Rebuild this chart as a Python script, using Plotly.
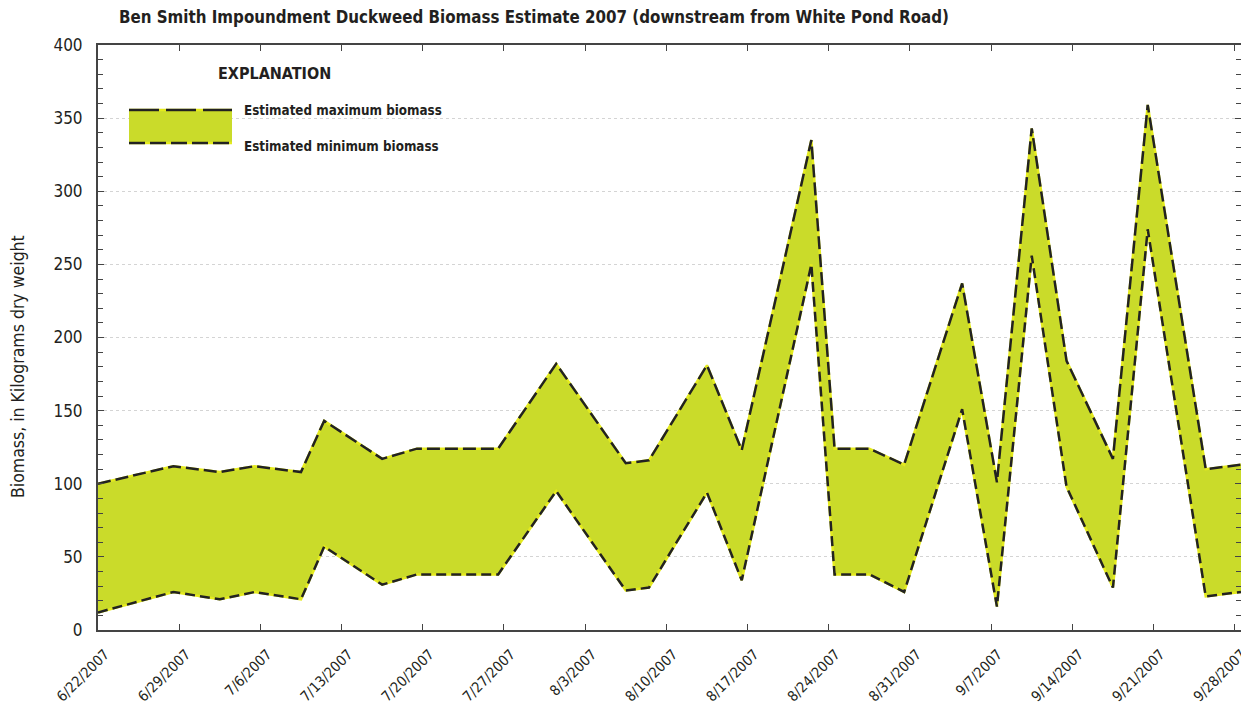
import plotly.graph_objects as go

# ---- data ----
dates = [
    "2007-06-22 00:00", "2007-06-28 12:00", "2007-07-02 12:00", "2007-07-05 12:00",
    "2007-07-09 12:00", "2007-07-11 12:00", "2007-07-16 12:00", "2007-07-19 12:00",
    "2007-07-26 12:00", "2007-07-31 12:00", "2007-08-06 12:00", "2007-08-08 12:00",
    "2007-08-13 12:00", "2007-08-16 12:00", "2007-08-22 12:00", "2007-08-24 12:00",
    "2007-08-27 12:00", "2007-08-30 12:00", "2007-09-04 12:00", "2007-09-07 12:00",
    "2007-09-10 12:00", "2007-09-13 12:00", "2007-09-17 12:00", "2007-09-20 12:00",
    "2007-09-25 12:00", "2007-09-28 13:00",
]
max_biomass = [100, 112, 108, 112, 108, 143, 117, 124, 124, 182, 114, 116, 181, 123,
               335, 124, 124, 113, 237, 101, 343, 184, 117, 359, 110, 113]
min_biomass = [12, 26, 21, 26, 21, 57, 31, 38, 38, 95, 27, 29, 94, 34,
               250, 38, 38, 26, 151, 16, 256, 98, 29, 274, 23, 26]

tick_dates = ["2007-06-22", "2007-06-29", "2007-07-06", "2007-07-13", "2007-07-20",
              "2007-07-27", "2007-08-03", "2007-08-10", "2007-08-17", "2007-08-24",
              "2007-08-31", "2007-09-07", "2007-09-14", "2007-09-21", "2007-09-28"]
tick_labels = ["6/22/2007", "6/29/2007", "7/6/2007", "7/13/2007", "7/20/2007",
               "7/27/2007", "8/3/2007", "8/10/2007", "8/17/2007", "8/24/2007",
               "8/31/2007", "9/7/2007", "9/14/2007", "9/21/2007", "9/28/2007"]
y_ticks = [0, 50, 100, 150, 200, 250, 300, 350, 400]

FONT = "Liberation Sans Narrow, Arial Narrow, DejaVu Sans Condensed, sans-serif"
FILL = "#cadb2a"
GAP = "#e4ea1e"
MAXDASH = "13px,5px"
MINDASH = "10px,5px"

fig = go.Figure()
fig.add_trace(go.Scatter(x=dates, y=min_biomass, mode="lines",
                         line=dict(color=GAP, width=2.5), showlegend=False,
                         hoverinfo="skip"))
fig.add_trace(go.Scatter(x=dates, y=max_biomass, mode="lines", fill="tonexty",
                         fillcolor=FILL, line=dict(color=GAP, width=2.5),
                         showlegend=False, hoverinfo="skip"))
fig.add_trace(go.Scatter(x=dates, y=min_biomass, mode="lines",
                         line=dict(color="#222222", width=2.5, dash=MINDASH),
                         name="Estimated minimum biomass", showlegend=False))
fig.add_trace(go.Scatter(x=dates, y=max_biomass, mode="lines",
                         line=dict(color="#222222", width=2.5, dash=MAXDASH),
                         name="Estimated maximum biomass", showlegend=False))

# page offset (default body margin) and target plot box in screen pixels
OFF = 8
W, H = 1249, 715
SL, SR, ST, SB = 98, 1241, 45, 630
L = SL - OFF
T = ST - OFF
R = W - (SR - OFF)
B = H - (SB - OFF)
pw, ph = W - L - R, H - T - B
def px(x):
    return (x - SL) / pw
def py(y):
    return (SB - y) / ph

shapes = [
    dict(type="rect", xref="paper", yref="paper", x0=px(129), x1=px(232),
         y0=py(143), y1=py(110), fillcolor=FILL, line=dict(width=0), layer="above"),
    dict(type="line", xref="paper", yref="paper", x0=px(129), x1=px(232),
         y0=py(110), y1=py(110), line=dict(color=GAP, width=2.5), layer="above"),
    dict(type="line", xref="paper", yref="paper", x0=px(129), x1=px(232),
         y0=py(110), y1=py(110), line=dict(color="#222222", width=2.5, dash="30px,7px"), layer="above"),
    dict(type="line", xref="paper", yref="paper", x0=px(129), x1=px(232),
         y0=py(143), y1=py(143), line=dict(color=GAP, width=2.5), layer="above"),
    dict(type="line", xref="paper", yref="paper", x0=px(129), x1=px(232),
         y0=py(143), y1=py(143), line=dict(color="#222222", width=2.5, dash="16px,5px"), layer="above"),
]

annotations = [
    dict(text="<b>EXPLANATION</b>", xref="paper", yref="paper", x=px(216), y=py(73),
         xanchor="left", yanchor="middle", showarrow=False,
         font=dict(family=FONT, size=16, color="#231f20")),
    dict(text="<b>Estimated maximum biomass</b>", xref="paper", yref="paper",
         x=px(242), y=py(110), xanchor="left", yanchor="middle", showarrow=False,
         font=dict(family=FONT, size=13.3, color="#231f20")),
    dict(text="<b>Estimated minimum biomass</b>", xref="paper", yref="paper",
         x=px(242), y=py(146), xanchor="left", yanchor="middle", showarrow=False,
         font=dict(family=FONT, size=13.3, color="#231f20")),
    dict(text="Biomass, in Kilograms dry weight", xref="paper", yref="paper",
         x=px(18), y=py(367), xanchor="center", yanchor="middle", textangle=-90,
         showarrow=False, font=dict(family=FONT, size=17.5, color="#231f20")),
    dict(text="<b>Ben Smith Impoundment Duckweed Biomass Estimate 2007 (downstream from White Pond Road)</b>",
         xref="paper", yref="paper", x=px(117), y=py(17), xanchor="left", yanchor="middle",
         showarrow=False, font=dict(family=FONT, size=16.8, color="#231f20")),
]

fig.update_layout(
    width=W, height=H,
    margin=dict(l=L, r=R, t=T, b=B, autoexpand=False),
    paper_bgcolor="white", plot_bgcolor="white",
    font=dict(family=FONT, color="#231f20"),
    shapes=shapes, annotations=annotations,
    showlegend=False,
)
fig.update_xaxes(
    type="date", range=["2007-06-22", "2007-09-28 13:00"], automargin=False,
    tickmode="array", tickvals=tick_dates, ticktext=tick_labels,
    tickangle=-45, tickfont=dict(family=FONT, size=14.5, color="#231f20"),
    ticks="inside", ticklen=6, tickcolor="#444", tickwidth=1.2,
    ticklabelshift=7, ticklabelstandoff=8, ticklabeloverflow="allow",
    showline=True, linecolor="#444", linewidth=2, mirror="ticks",
    showgrid=False, zeroline=False,
)
fig.update_yaxes(
    range=[0, 400], tickmode="array", tickvals=y_ticks, automargin=False,
    tickfont=dict(family=FONT, size=17, color="#231f20"),
    ticks="inside", ticklen=6, tickcolor="#444", tickwidth=1.2,
    minor=dict(dtick=10, ticks="inside", ticklen=5, tickcolor="#444", showgrid=False),
    showline=True, linecolor="#444", linewidth=2, mirror="ticks",
    showgrid=True, gridcolor="#d4d4d4", griddash="dot", gridwidth=1,
    zeroline=False, ticklabelstandoff=10,
)

fig.write_html("out.html")
